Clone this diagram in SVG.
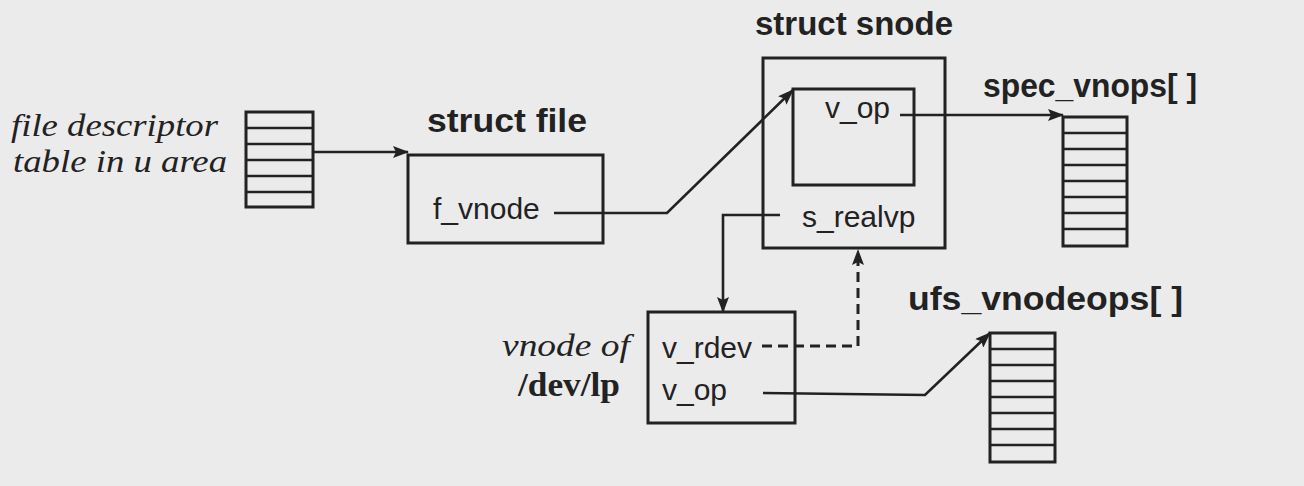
<svg xmlns="http://www.w3.org/2000/svg" width="1304" height="486" viewBox="0 0 1304 486">
<defs>
<marker id="ah" viewBox="0 0 16 12" refX="15" refY="6" markerWidth="16" markerHeight="12" markerUnits="userSpaceOnUse" orient="auto">
<path d="M0,0 L16,6 L0,12 L3,6 Z" fill="#222"/>
</marker>
</defs>
<style>
.box{fill:none;stroke:#222;stroke-width:3}
.row{stroke:#222;stroke-width:2.5}
.ln{fill:none;stroke:#222;stroke-width:2.6}
.dash{fill:none;stroke:#222;stroke-width:3;stroke-dasharray:10 6}
.title{font-family:"Liberation Sans",Arial,sans-serif;font-weight:bold;font-size:34px;fill:#222}
.fld{font-family:"Liberation Sans",Arial,sans-serif;font-size:30px;fill:#222}
.it{font-family:"Liberation Serif","Times New Roman",serif;font-style:italic;font-size:32px;fill:#222}
.bs{font-family:"Liberation Serif","Times New Roman",serif;font-weight:bold;font-size:34px;fill:#222}
</style>
<rect x="0" y="0" width="1304" height="486" fill="#ebebeb"/>

<g id="fd-table">
<text class="it" x="11" y="136" textLength="207" lengthAdjust="spacingAndGlyphs">file descriptor</text>
<text class="it" x="13" y="172" textLength="214" lengthAdjust="spacingAndGlyphs">table in u area</text>
<rect class="box" x="246" y="112" width="67" height="95"/>
<line class="row" x1="246" y1="128" x2="313" y2="128"/>
<line class="row" x1="246" y1="144" x2="313" y2="144"/>
<line class="row" x1="246" y1="160" x2="313" y2="160"/>
<line class="row" x1="246" y1="176" x2="313" y2="176"/>
<line class="row" x1="246" y1="192" x2="313" y2="192"/>
</g>

<g id="struct-file">
<text class="title" x="427" y="132" textLength="160" lengthAdjust="spacingAndGlyphs">struct file</text>
<rect class="box" x="408" y="155" width="195" height="88"/>
<text class="fld" x="433" y="219">f_vnode</text>
</g>

<g id="struct-snode">
<text class="title" x="755" y="35" textLength="198" lengthAdjust="spacingAndGlyphs">struct snode</text>
<rect class="box" x="763" y="58" width="182" height="190"/>
<rect class="box" x="793" y="89" width="121" height="96"/>
<text class="fld" x="825" y="118">v_op</text>
<text class="fld" x="802" y="227">s_realvp</text>
</g>

<g id="spec-vnops">
<text class="title" x="983" y="97" textLength="214" lengthAdjust="spacingAndGlyphs">spec_vnops[ ]</text>
<rect class="box" x="1063" y="117" width="64" height="129"/>
<line class="row" x1="1063" y1="133" x2="1127" y2="133"/>
<line class="row" x1="1063" y1="149" x2="1127" y2="149"/>
<line class="row" x1="1063" y1="165" x2="1127" y2="165"/>
<line class="row" x1="1063" y1="181" x2="1127" y2="181"/>
<line class="row" x1="1063" y1="197" x2="1127" y2="197"/>
<line class="row" x1="1063" y1="213" x2="1127" y2="213"/>
<line class="row" x1="1063" y1="229" x2="1127" y2="229"/>
</g>

<g id="vnode-devlp">
<text class="it" x="502" y="356" textLength="128" lengthAdjust="spacingAndGlyphs">vnode of</text>
<text class="bs" x="518" y="396" textLength="102" lengthAdjust="spacingAndGlyphs">/dev/lp</text>
<rect class="box" x="648" y="312" width="147" height="111"/>
<text class="fld" x="662" y="358">v_rdev</text>
<text class="fld" x="662" y="400">v_op</text>
</g>

<g id="ufs-vnodeops">
<text class="title" x="908" y="310" textLength="275" lengthAdjust="spacingAndGlyphs">ufs_vnodeops[ ]</text>
<rect class="box" x="990" y="333" width="65" height="129"/>
<line class="row" x1="990" y1="349" x2="1055" y2="349"/>
<line class="row" x1="990" y1="365" x2="1055" y2="365"/>
<line class="row" x1="990" y1="381" x2="1055" y2="381"/>
<line class="row" x1="990" y1="397" x2="1055" y2="397"/>
<line class="row" x1="990" y1="413" x2="1055" y2="413"/>
<line class="row" x1="990" y1="429" x2="1055" y2="429"/>
<line class="row" x1="990" y1="445" x2="1055" y2="445"/>
</g>

<g id="connectors">
<path class="ln" d="M313,152 L408,152" marker-end="url(#ah)"/>
<path class="ln" d="M554,213 L667,213 L793,90" marker-end="url(#ah)"/>
<path class="ln" d="M900,115 L1063,115" marker-end="url(#ah)"/>
<path class="ln" d="M780,215 L723,215 L723,312" marker-end="url(#ah)"/>
<path class="dash" d="M762,346 L858,346 L858,250" marker-end="url(#ah)"/>
<path class="ln" d="M763,393 L925,395 L990,333" marker-end="url(#ah)"/>
</g>
</svg>
